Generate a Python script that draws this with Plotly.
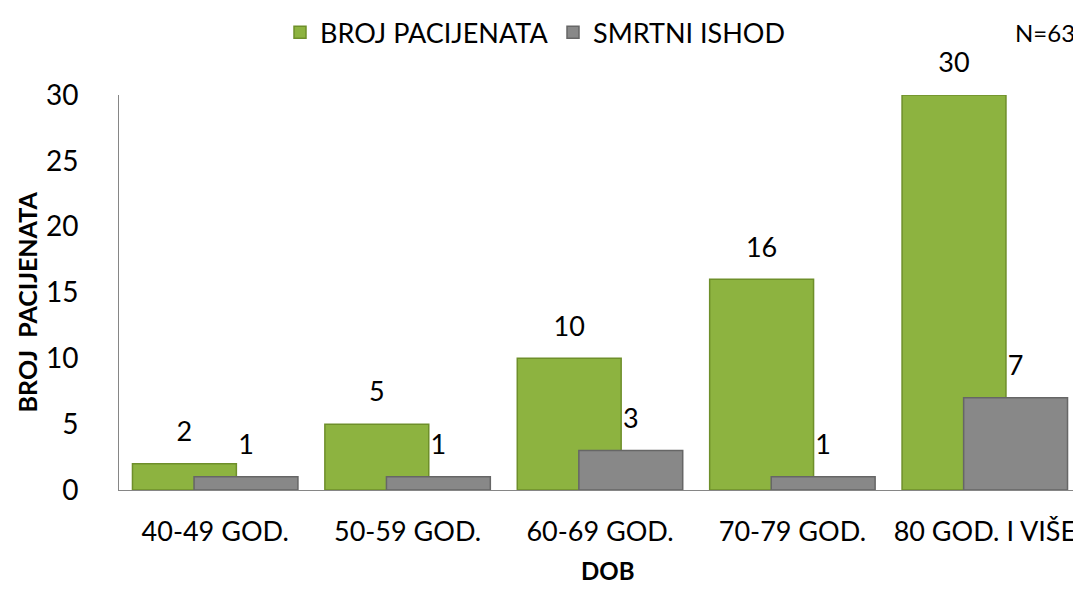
import plotly.graph_objects as go

categories = ["40-49 GOD.", "50-59 GOD.", "60-69 GOD.", "70-79 GOD.", "80 GOD. I VIŠE"]
broj_pacijenata = [2, 5, 10, 16, 30]
smrtni_ishod = [1, 1, 3, 1, 7]
y_ticks = [0, 5, 10, 15, 20, 25, 30]

FONT = "Lato"
idx = list(range(len(categories)))
bar_w = 0.54
off_g = -0.43
off_s = -0.11

# page has an 8px body margin; layout coordinates below are page pixels
PAGE_OFF = 8
W, H = 1081 - PAGE_OFF, 589 - PAGE_OFF
PL, PR, PT, PB = 119 - PAGE_OFF, 1081 - PAGE_OFF, 90 - PAGE_OFF, 490 - PAGE_OFF


def px(x):
    return (x - PAGE_OFF - PL) / (PR - PL)


def py(y):
    return (PB - (y - PAGE_OFF)) / (PB - PT)


fig = go.Figure()
fig.add_trace(go.Bar(
    x=idx, y=broj_pacijenata, name="BROJ PACIJENATA",
    width=bar_w, offset=off_g,
    marker=dict(color="#8DB340", line=dict(color="#6E8F2A", width=1.5)),
))
fig.add_trace(go.Bar(
    x=idx, y=smrtni_ishod, name="SMRTNI ISHOD",
    width=bar_w, offset=off_s,
    marker=dict(color="#888888", line=dict(color="#666666", width=1.5)),
))
# value labels
fig.add_trace(go.Scatter(
    x=[i + off_g + bar_w / 2 for i in idx], y=broj_pacijenata,
    mode="markers+text", text=[str(v) for v in broj_pacijenata],
    textposition="top center", marker=dict(size=24, opacity=0),
    textfont=dict(family=FONT, size=27, color="black"),
    showlegend=False, hoverinfo="skip", cliponaxis=False,
))
fig.add_trace(go.Scatter(
    x=[i + off_s + bar_w / 2 for i in idx], y=smrtni_ishod,
    mode="markers+text", text=[str(v) for v in smrtni_ishod],
    textposition="top center", marker=dict(size=24, opacity=0),
    textfont=dict(family=FONT, size=27, color="black"),
    showlegend=False, hoverinfo="skip", cliponaxis=False,
))

fig.update_layout(
    width=W, height=H,
    barmode="overlay",
    margin=dict(l=PL, r=W - PR, t=PT, b=H - PB),
    paper_bgcolor="white", plot_bgcolor="white",
    font=dict(family=FONT, color="black"),
    legend=dict(
        orientation="h", x=px(280), xanchor="left", y=py(27), yanchor="middle",
        font=dict(family=FONT, size=27), itemwidth=30,
        entrywidth=228, entrywidthmode="pixels",
    ),
    xaxis=dict(
        range=[-0.5, 4.5], tickvals=idx, ticktext=categories, automargin=False,
        showline=True, linecolor="#868686", linewidth=1,
        ticks="outside", ticklen=18, tickcolor="white",
        tickfont=dict(family=FONT, size=27), showgrid=False, zeroline=False,
    ),
    yaxis=dict(
        range=[0, 30], tickvals=y_ticks, automargin=False,
        showline=True, linecolor="#868686", linewidth=1,
        ticks="outside", ticklen=34, tickcolor="white",
        tickfont=dict(family=FONT, size=28), showgrid=False, zeroline=False,
    ),
    annotations=[
        dict(text="N=63", xref="paper", yref="paper", showarrow=False,
             x=px(1045), y=py(27), xanchor="center", yanchor="middle",
             font=dict(family=FONT, size=24)),
        dict(text="<b>DOB</b>", xref="paper", yref="paper", showarrow=False,
             x=px(607), y=py(572), xanchor="center", yanchor="middle",
             font=dict(family=FONT, size=24)),
        dict(text="<b>BROJ  PACIJENATA</b>", xref="paper", yref="paper", showarrow=False,
             x=px(27), y=py(300), xanchor="center", yanchor="middle", textangle=-90,
             font=dict(family=FONT, size=25)),
    ],
)

fig.write_html("out.html")
